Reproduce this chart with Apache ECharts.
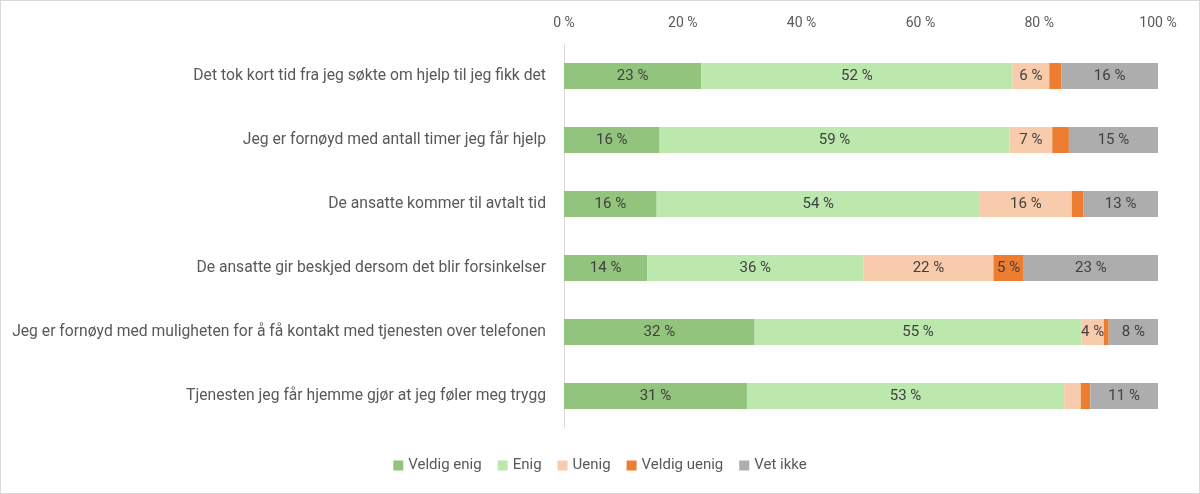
<!DOCTYPE html>
<html>
<head>
<meta charset="utf-8">
<script src="https://cdn.jsdelivr.net/npm/echarts@6/dist/echarts.min.js"></script>
<style>
  html, body { margin: 0; padding: 0; background: #fff; }
  #chart { width: 1200px; height: 494px; box-sizing: border-box; border: 1px solid #d9d9d9; }
</style>
</head>
<body>
<div id="chart"></div>
<script>
var categories = [
    'Det tok kort tid fra jeg søkte om hjelp til jeg fikk det',
    'Jeg er fornøyd med antall timer jeg får hjelp',
    'De ansatte kommer til avtalt tid',
    'De ansatte gir beskjed dersom det blir forsinkelser',
    'Jeg er fornøyd med muligheten for å få kontakt med tjenesten over telefonen',
    'Tjenesten jeg får hjemme gjør at jeg føler meg trygg'
]
var seriesNames = ['Veldig enig', 'Enig', 'Uenig', 'Veldig uenig', 'Vet ikke']
var veldigEnig = [23.1, 16.1, 15.6, 14.0, 32.1, 30.8]
var enig = [52.4, 58.9, 54.4, 36.4, 55.0, 53.4]
var uenig = [6.2, 7.2, 15.5, 21.9, 3.8, 2.8]
var veldigUenig = [2.0, 2.8, 1.9, 5.1, 0.8, 1.6]
var vetIkke = [16.3, 15.0, 12.6, 22.6, 8.3, 11.4]
var tickLabels = ['0 %', '20 %', '40 %', '60 %', '80 %', '100 %']

var colors = ['#93C47D', '#BCE7AD', '#F8CBAD', '#ED7D31', '#ADADAD']
var values = [veldigEnig, enig, uenig, veldigUenig, vetIkke]

var myChart = echarts.init(document.getElementById('chart'))

var series = seriesNames.map(function (name, i) {
    return {
        name: name,
        type: 'bar',
        stack: 'total',
        barWidth: 26,
        data: values[i],
        itemStyle: { color: colors[i] },
        label: {
            show: true,
            position: 'inside',
            color: '#404040',
            fontSize: 15,
            fontFamily: 'Roboto',
            formatter: function (p) {
                return p.value >= 3.5 ? Math.round(p.value) + ' %' : ''
            }
        }
    }
})

var option = {
    backgroundColor: '#fff',
    animation: false,
    color: colors,
    grid: {
        top: 43,
        bottom: 65,
        left: 563,
        right: 41,
        containLabel: false,
        outerBoundsMode: 'none'
    },
    legend: {
        bottom: 15,
        left: 'center',
        itemWidth: 10,
        itemHeight: 10,
        itemGap: 16,
        icon: 'rect',
        textStyle: { color: '#595959', fontSize: 15, fontFamily: 'Roboto' },
        data: seriesNames
    },
    xAxis: {
        type: 'value',
        position: 'top',
        min: 0,
        max: 100,
        interval: 20,
        axisLine: { show: false },
        axisTick: { show: false },
        splitLine: { show: false },
        axisLabel: {
            color: '#595959',
            fontSize: 14,
            fontFamily: 'Roboto',
            margin: 14,
            formatter: function (v) { return tickLabels[v / 20] }
        }
    },
    yAxis: {
        type: 'category',
        inverse: true,
        data: categories,
        axisLine: { show: true, lineStyle: { color: '#d9d9d9' } },
        axisTick: { show: false },
        axisLabel: {
            color: '#595959',
            fontSize: 15.7,
            fontFamily: 'Roboto',
            margin: 18
        }
    },
    series: series
}
myChart.setOption(option)
</script>
</body>
</html>
